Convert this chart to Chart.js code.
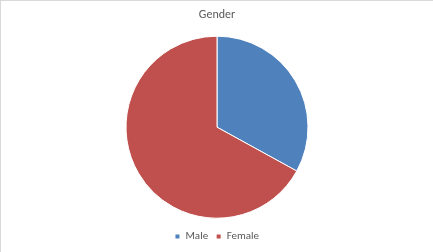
<!DOCTYPE html>
<html>
<head>
<meta charset="utf-8">
<script src="https://cdn.jsdelivr.net/npm/chart.js@4"></script>
<style>
    body { margin: 0; background: #fff; }
    #wrap {
        width: 433px; height: 252px; box-sizing: border-box;
        border-top: 1px solid #d9d9d9; border-left: 1px solid #d9d9d9;
    }
    canvas { display: block; }
</style>
</head>
<body>
<div id="wrap"><canvas id="chart" width="432" height="251"></canvas></div>
<script>
"use strict";
// values
const labels = ["Male", "Female"];
const counts = [33, 67];
const colors = ["#4f81bd", "#c0504d"];

const ctx = document.getElementById("chart").getContext("2d");
const chart = new Chart(ctx, {
    type: "pie",
    data: {
        labels: labels,
        datasets: [{
            data: counts,
            backgroundColor: colors,
            borderColor: "#ffffff",
            borderWidth: 1,
            radius: 91
        }]
    },
    options: {
        responsive: false,
        animation: false,
        layout: { padding: { top: 0, bottom: 0 } },
        plugins: {
            title: {
                display: true,
                text: "Gender",
                color: "#595959",
                font: { family: "Calibri, Carlito, Lato, sans-serif", size: 12, weight: "normal" },
                padding: { top: 7, bottom: 9 }
            },
            legend: {
                position: "bottom",
                labels: {
                    color: "#595959",
                    boxWidth: 5,
                    boxHeight: 5,
                    padding: 8,
                    font: { family: "Calibri, Carlito, Lato, sans-serif", size: 11 }
                }
            },
            tooltip: { enabled: false }
        }
    }
});
</script>
</body>
</html>
